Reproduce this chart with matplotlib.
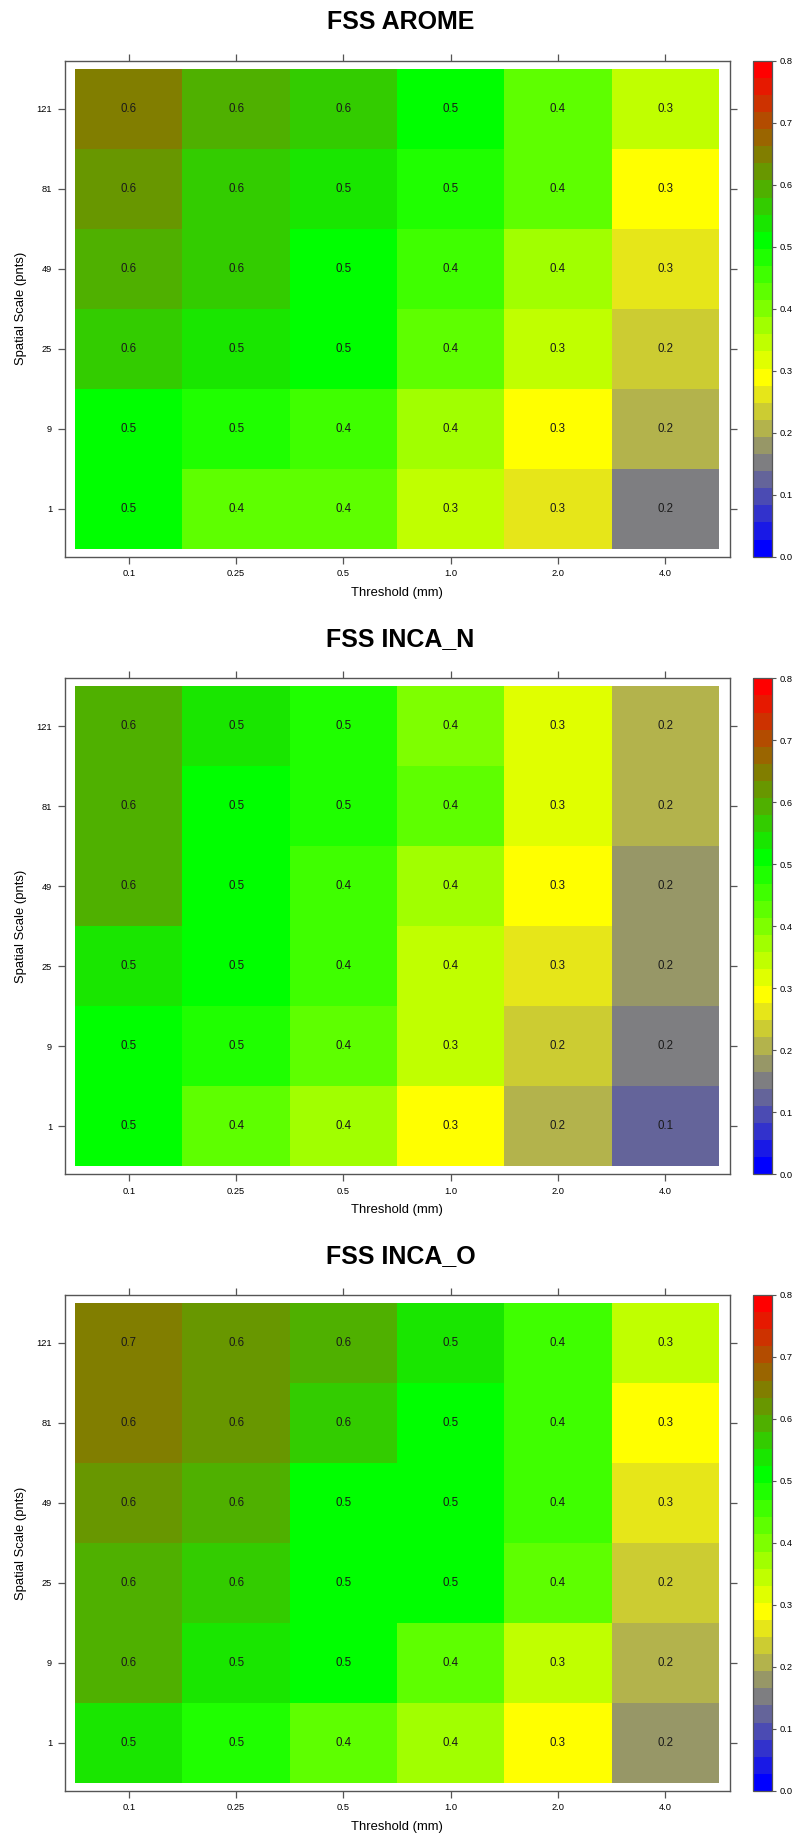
import numpy as np
import matplotlib
matplotlib.use("Agg")
import matplotlib.pyplot as plt
from matplotlib.colors import LinearSegmentedColormap, ListedColormap, BoundaryNorm

plt.rcParams["font.family"] = ["Liberation Sans", "DejaVu Sans"]

thresholds = ["0.1", "0.25", "0.5", "1.0", "2.0", "4.0"]
scales = ["1", "9", "25", "49", "81", "121"]   # bottom to top

# FSS per scale (rows, bottom -> top) and threshold (columns)
fss_arome = [
    [0.50, 0.44, 0.42, 0.34, 0.26, 0.155],
    [0.52, 0.49, 0.445, 0.37, 0.29, 0.21],
    [0.56, 0.53, 0.50, 0.43, 0.345, 0.235],
    [0.59, 0.56, 0.51, 0.445, 0.37, 0.26],
    [0.62, 0.565, 0.535, 0.48, 0.43, 0.29],
    [0.645, 0.59, 0.56, 0.50, 0.42, 0.34],
]
fss_inca_n = [
    [0.50, 0.435, 0.365, 0.29, 0.21, 0.125],
    [0.51, 0.48, 0.43, 0.345, 0.235, 0.155],
    [0.53, 0.50, 0.445, 0.355, 0.26, 0.18],
    [0.585, 0.51, 0.445, 0.37, 0.29, 0.18],
    [0.59, 0.51, 0.49, 0.43, 0.32, 0.21],
    [0.59, 0.535, 0.48, 0.41, 0.32, 0.21],
]
fss_inca_o = [
    [0.53, 0.485, 0.43, 0.37, 0.29, 0.18],
    [0.585, 0.535, 0.50, 0.43, 0.345, 0.21],
    [0.59, 0.565, 0.51, 0.50, 0.44, 0.235],
    [0.62, 0.59, 0.51, 0.50, 0.445, 0.26],
    [0.645, 0.62, 0.565, 0.51, 0.445, 0.29],
    [0.655, 0.62, 0.59, 0.535, 0.445, 0.34],
]
panels = [("FSS AROME", fss_arome), ("FSS INCA_N", fss_inca_n), ("FSS INCA_O", fss_inca_o)]

# blue - grey - yellow - green - red ramp, cut into 29 levels over 0..0.8
ramp = LinearSegmentedColormap.from_list(
    "fss", [(0.0, "#0000ff"), (5 / 28, "#7f7f7f"), (10 / 28, "#ffff00"),
            (18 / 28, "#00ff00"), (1.0, "#ff0000")])
levels = np.linspace(0, 0.8, 30)
cmap = ListedColormap(ramp(np.linspace(0, 1, 29)))
norm = BoundaryNorm(levels, cmap.N)

W, H = 801, 1841
fig = plt.figure(figsize=(W / 100, H / 100), dpi=100)
axcol = "#555555"

tops = [60.7, 678.3, 1295.0]
box_l, box_w, box_h = 64.5, 665.0, 496.0
cb_ticks = np.arange(0, 0.81, 0.1)

for (title, vals), top in zip(panels, tops):
    data = np.array(vals)
    ax = fig.add_axes([box_l / W, 1 - (top + box_h) / H, box_w / W, box_h / H])
    xe = np.arange(0.5, 7.0, 1.0)
    ax.pcolormesh(xe, xe, data, cmap=cmap, norm=norm, edgecolor="face", linewidth=0)
    for r in range(6):
        for c in range(6):
            ax.text(c + 1, r + 1, f"{data[r, c]:.1f}", ha="center", va="center",
                    fontsize=8.3, color="#1a1a1a")
    ax.set_xlim(0.4, 6.6)
    ax.set_ylim(0.4, 6.6)
    ax.set_xticks(range(1, 7))
    ax.set_xticklabels(thresholds)
    ax.set_yticks(range(1, 7))
    ax.set_yticklabels(scales)
    ax.tick_params(axis="both", which="both", direction="out", length=5, width=0.9,
                   color=axcol, labelsize=6.7, top=True, right=True,
                   labeltop=False, labelright=False, pad=4)
    for sp in ax.spines.values():
        sp.set_color(axcol)
        sp.set_linewidth(1.0)
    ax.set_xlabel("Threshold (mm)", fontsize=9.4, labelpad=6)
    ax.set_ylabel("Spatial Scale (pnts)", fontsize=9.4, labelpad=6.5)
    fig.text(0.5, 1 - (top - 39) / H, title, ha="center", va="center",
             fontsize=18, fontweight="bold")

    cax = fig.add_axes([753.3 / W, 1 - (top + box_h) / H, 19.0 / W, box_h / H])
    cb = fig.colorbar(matplotlib.cm.ScalarMappable(norm=norm, cmap=cmap), cax=cax,
                      ticks=cb_ticks, spacing="proportional")
    cb.minorticks_off()
    cb.ax.set_yticklabels([f"{t:.1f}" for t in cb_ticks])
    cb.ax.tick_params(length=3, width=0.8, color=axcol, labelsize=6.7, pad=2)
    cb.outline.set_edgecolor(axcol)
    cb.outline.set_linewidth(0.9)

fig.savefig("out.png", dpi=100)
